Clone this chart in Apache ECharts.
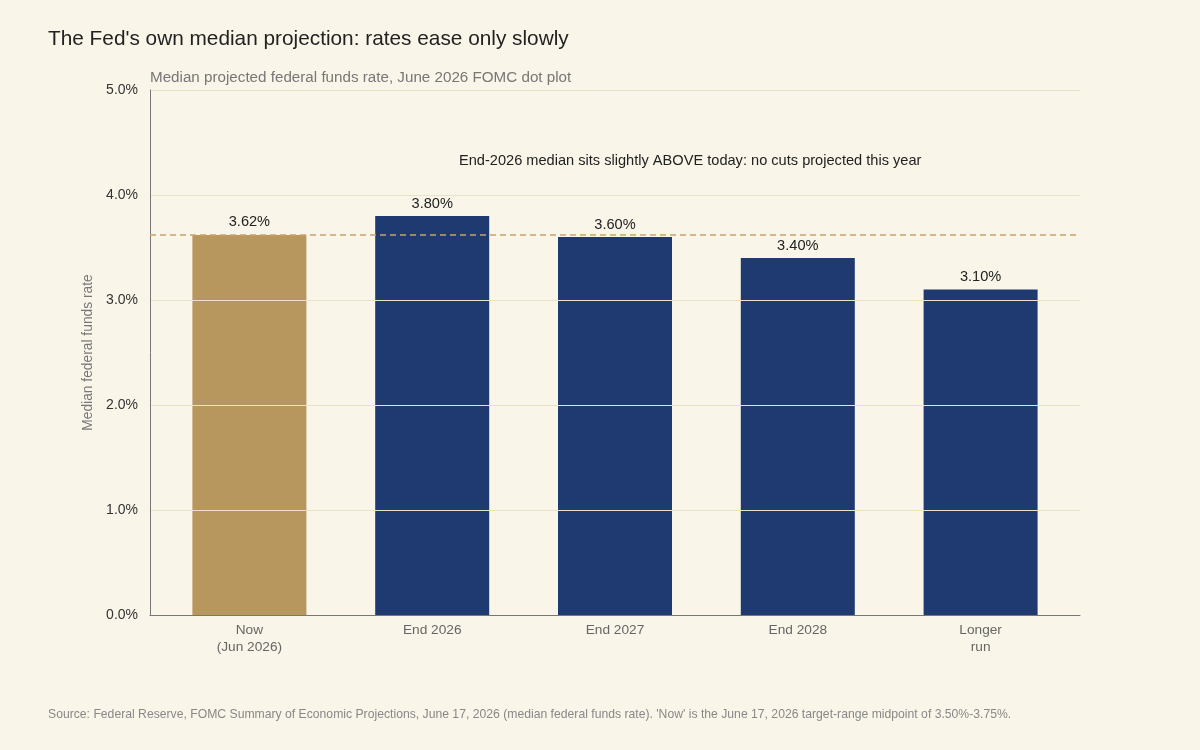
<!DOCTYPE html>
<html>
<head>
<meta charset="utf-8">
<script src="https://cdn.jsdelivr.net/npm/echarts@6/dist/echarts.min.js"></script>
<style>
  html, body { margin: 0; padding: 0; background: #f9f5e9; }
  #chart { width: 1200px; height: 750px; }
</style>
</head>
<body>
<div id="chart"></div>
<script>
var categories = ['Now\n(Jun 2026)', 'End 2026', 'End 2027', 'End 2028', 'Longer\nrun'];
var rates = [3.62, 3.80, 3.60, 3.40, 3.10];
var barColors = ['#b8975f', '#1f3a70', '#1f3a70', '#1f3a70', '#1f3a70'];
var currentRate = 3.62;

var chart = echarts.init(document.getElementById('chart'));
var font = '"Liberation Sans", Arial, sans-serif';

var option = {
    backgroundColor: '#f9f5e9',
    textStyle: { fontFamily: font },
    title: [
        {
            text: "The Fed's own median projection: rates ease only slowly",
            left: 43,
            top: 24,
            textStyle: { fontSize: 20.8, fontWeight: 'normal', color: '#222', fontFamily: font }
        },
        {
            text: 'Median projected federal funds rate, June 2026 FOMC dot plot',
            left: 145,
            top: 65,
            textStyle: { fontSize: 15.2, fontWeight: 'normal', color: '#777', fontFamily: font }
        },
        {
            text: "Source: Federal Reserve, FOMC Summary of Economic Projections, June 17, 2026 (median federal funds rate). 'Now' is the June 17, 2026 target-range midpoint of 3.50%-3.75%.",
            left: 43,
            top: 704,
            textStyle: { fontSize: 12.2, fontWeight: 'normal', color: '#888', fontFamily: font }
        }
    ],
    grid: [
        { left: 150, right: 120, top: 90, bottom: 135 },
        { left: 158, right: 128, top: 90, bottom: 135 }
    ],
    xAxis: [
        {
            type: 'category',
            gridIndex: 0,
            data: categories,
            z: 4,
            axisLine: { lineStyle: { color: '#777', width: 1 } },
            axisTick: { show: false },
            axisLabel: { show: false }
        },
        {
            type: 'category',
            gridIndex: 1,
            data: categories,
            axisLine: { show: false },
            axisTick: { show: false },
            axisLabel: { color: '#666', fontSize: 13.7, margin: 7, lineHeight: 17, fontFamily: font }
        }
    ],
    yAxis: [
        {
            type: 'value',
            gridIndex: 0,
            min: 0,
            max: 5,
            interval: 1,
            z: 3,
            name: 'Median federal funds rate',
            nameLocation: 'middle',
            nameGap: 53,
            nameTextStyle: { color: '#777', fontSize: 13.8, fontFamily: font },
            axisLine: { show: true, lineStyle: { color: '#777', width: 1 } },
            axisTick: { show: false },
            axisLabel: {
                color: '#333',
                fontSize: 14,
                margin: 12,
                fontFamily: font,
                formatter: function (v) { return v.toFixed(1) + '%'; }
            },
            splitLine: { lineStyle: { color: '#e9e2c6', width: 1 } }
        },
        {
            type: 'value',
            gridIndex: 1,
            min: 0,
            max: 5,
            interval: 1,
            show: false,
            splitLine: { show: false }
        }
    ],
    series: [
        {
            type: 'bar',
            xAxisIndex: 1,
            yAxisIndex: 1,
            barWidth: 114,
            data: rates.map(function (v, i) {
                return { value: v, itemStyle: { color: barColors[i] } };
            }),
            label: {
                show: true,
                position: 'top',
                distance: 5,
                color: '#222',
                fontSize: 14.6,
                fontFamily: font,
                formatter: function (p) { return p.value.toFixed(2) + '%'; }
            }
        },
        {
            // carries the "today" reference line across the full plot width
            type: 'line',
            xAxisIndex: 0,
            yAxisIndex: 0,
            data: rates,
            showSymbol: false,
            silent: true,
            lineStyle: { opacity: 0 },
            z: 4,
            markLine: {
                silent: true,
                symbol: 'none',
                label: { show: false },
                lineStyle: { color: '#c9a36b', type: [6, 4], width: 1.5 },
                data: [{ yAxis: currentRate }]
            }
        }
    ],
    graphic: [
        {
            type: 'text',
            left: 459,
            top: 153,
            style: {
                text: 'End-2026 median sits slightly ABOVE today: no cuts projected this year',
                fill: '#222',
                font: '14.6px ' + font
            }
        }
    ]
};

chart.setOption(option);
</script>
</body>
</html>
